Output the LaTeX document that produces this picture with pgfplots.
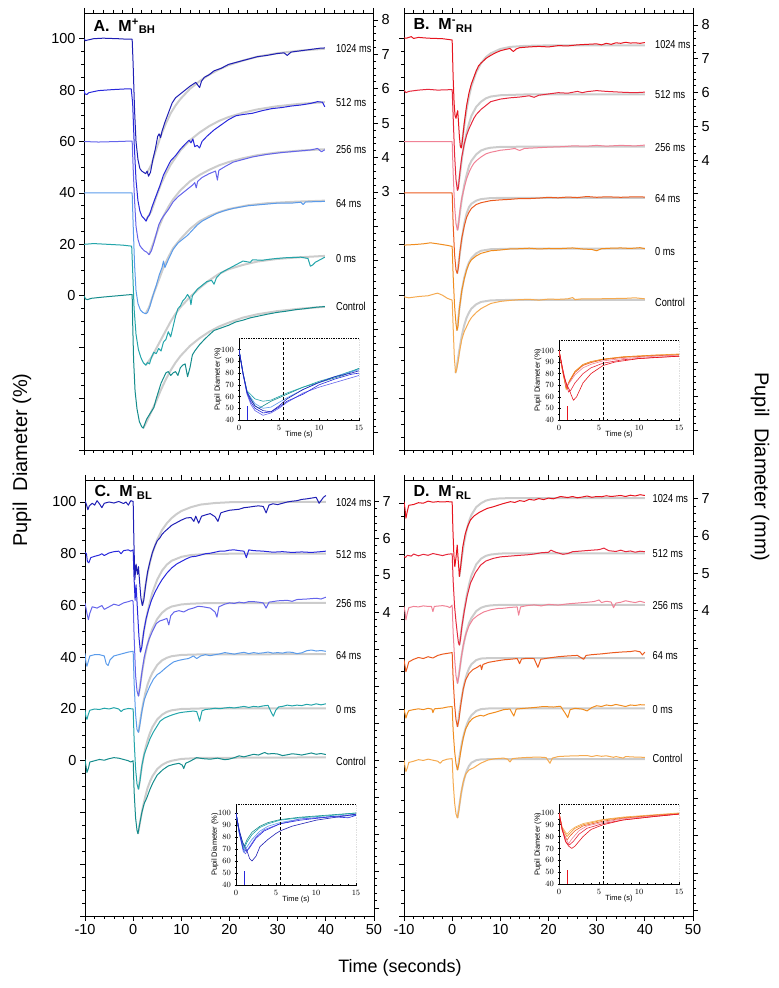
\documentclass[border=0pt]{standalone}
\usepackage{pgfplots}
\pgfplotsset{compat=1.18}
\usepackage{graphicx}
\usepackage{fontspec}
\setmainfont{Liberation Sans}
\definecolor{fitgray}{HTML}{CCCCCC}
\definecolor{a1}{HTML}{1E1EB4}
\definecolor{a2}{HTML}{2828DC}
\definecolor{a3}{HTML}{6464EB}
\definecolor{a4}{HTML}{5A9BEB}
\definecolor{a5}{HTML}{23A5AA}
\definecolor{a6}{HTML}{148C8C}
\definecolor{b1}{HTML}{E6141E}
\definecolor{b2}{HTML}{E6283C}
\definecolor{b3}{HTML}{F08296}
\definecolor{b4}{HTML}{EB5A1E}
\definecolor{b5}{HTML}{F08C1E}
\definecolor{b6}{HTML}{F5AA50}
\newcommand{\lb}[1]{\scalebox{0.8}[1]{#1}}
\tikzset{
 lab/.style={anchor=west, font=\fontsize{11.5}{13}\selectfont, inner sep=0pt},
 ttl/.style={anchor=north west, font=\bfseries\fontsize{16}{18}\selectfont, xshift=6pt, yshift=-2pt}
}
\pgfplotsset{
 panel/.style={scale only axis, width=289pt, xmin=-10, xmax=50,
   xtick={-10,0,...,50}, minor x tick num=4, ytick={-60,-40,...,100}, minor y tick num=3,
   tick align=outside, xtick pos=both, ytick pos=left,
   axis line style={line width=0.8pt}, major tick length=5pt, minor tick length=3pt,
   every tick/.style={line width=0.7pt, black},
   tick label style={font=\fontsize{14.5}{16}\selectfont}},
 mmaxis/.style={scale only axis, width=289pt, xmin=-10, xmax=50, axis x line=none, axis y line*=right,
   minor y tick num=4, tick align=outside, axis line style={line width=0.8pt},
   major tick length=5pt, minor tick length=3pt, every tick/.style={line width=0.7pt, black},
   tick label style={font=\fontsize{14.5}{16}\selectfont}},
 inset/.style={scale only axis, width=120pt, xmin=0, xmax=15, ymin=40,
   xtick={0,5,10,15}, ytick={40,50,...,100}, minor x tick num=4, minor y tick num=1,
   tick align=center, axis lines*=left, major tick length=3pt, minor tick length=1.5pt,
   every tick/.style={line width=0.5pt, black}, axis line style={line width=0.6pt},
   tick label style={font=\fontsize{8}{9}\selectfont},
   xlabel={Time (s)}, ylabel={Pupil Diameter (\%)},
   label style={font=\fontsize{7.5}{8}\selectfont},
   xlabel style={yshift=6pt}, ylabel style={yshift=-7pt},
   axis background/.style={fill=white}},
 fit/.style={color=fitgray, line width=2pt, no marks, line join=round},
 tr/.style={line width=1pt, no marks, line join=round},
 itr/.style={line width=0.6pt, no marks, line join=round}
}
\begin{document}
\begin{tikzpicture}
\path[use as bounding box] (0pt,0pt) rectangle (779pt,988pt);

%================ PANEL A =================
\begin{axis}[panel, at={(84pt,538pt)}, anchor=south west, height=437pt, ymin=-60, ymax=110,
  yticklabels={,,,0,20,40,60,80,100}, xticklabels={}]
\addplot[fit] coordinates {(3,47.5)(4,51)(5,57)(6,62.5)(7,67)(8,71)(9,74)(10,76.5)(12,80.5)(14,83.5)(16,86)(18,88)(20,89.7)(23,91.5)(26,93)(30,94.3)(35,95.4)(40,96.1)};
\addplot[fit] coordinates {(2.9,29.5)(4,33)(5,38.5)(6,43.5)(7,47.5)(8,51)(10,56.5)(12,60.5)(14,63.5)(16,66)(18,68)(20,69.5)(23,71.2)(26,72.5)(30,73.7)(35,74.7)(40,75.3)};
\addplot[fit] coordinates {(3.5,16)(4.5,21)(5.5,26.5)(6.5,31)(7.5,34.5)(8.5,37.5)(10,41)(12,44.5)(14,47)(16,49)(18,50.7)(20,52)(23,53.5)(26,54.7)(30,55.7)(35,56.5)(40,57)};
\addplot[fit] coordinates {(2.8,-7)(3.5,-4.5)(4.5,1)(5.5,6)(6.5,11)(7.5,15)(8.5,18.5)(10,22)(12,26)(14,29)(16,31)(18,32.5)(20,33.7)(24,35.2)(28,36)(34,36.6)(40,37)};
\addplot[fit] coordinates {(2.8,-27)(4,-24)(5,-20.5)(6,-17)(7,-13.5)(8,-10)(9,-7)(10,-4.5)(12,-0.5)(14,3)(16,6)(18,8.5)(20,10.3)(23,12)(26,13.3)(30,14.3)(35,15)(40,15.5)};
\addplot[fit] coordinates {(2.3,-51.5)(3,-49)(4,-45)(5,-41)(6,-36.5)(7,-32.5)(8,-29)(9,-26)(10,-23.5)(12,-19.5)(14,-16.5)(16,-14)(18,-12)(20,-10.5)(23,-8.5)(26,-7.2)(30,-6)(35,-5)(40,-4.3)};
\addplot[tr, color=a6] coordinates {(-10,0)(-9.7,-1.2)(-9.3,-1.5)(-8.5,-1)(-6,-0.5)(-3,0)(0,0.5)(0.1,-10)(0.3,-25)(0.6,-37)(1,-44)(1.5,-49)(2,-51)(2.3,-51.5)(2.6,-50)(3,-48)(3.5,-46.5)(4,-45)(4.5,-43.5)(5,-40)(5.5,-37)(6,-34)(6.5,-32)(7,-30)(7.5,-29.5)(8,-31)(8.5,-30)(9,-29.5)(9.5,-31)(10,-28)(10.5,-27)(11,-26.5)(11.5,-31.5)(12,-28)(12.5,-23)(13,-21.5)(14,-19)(15,-17)(16,-15.2)(17,-13.5)(18.5,-12.5)(20,-11.5)(21.5,-10.2)(23,-9.5)(24.5,-8.6)(26,-8)(28,-7.2)(30,-6.5)(32,-6)(34,-5.4)(36,-5)(38,-4.5)(40,-4.2)};
\addplot[tr, color=a5] coordinates {(-10,20)(-8,20.3)(-5,20)(-2,19.7)(-0.1,19.3)(0.1,10)(0.4,-5)(0.8,-15)(1.3,-21)(1.8,-24)(2.3,-26)(2.8,-27)(3.2,-26)(3.6,-26.5)(4,-24)(4.5,-22)(5,-22.5)(5.5,-20.5)(6,-21.5)(6.5,-18)(7,-17)(7.5,-14)(8,-16)(8.5,-12)(9,-8)(9.5,-5)(10,-4)(10.5,-2)(11,-1)(11.5,0.5)(12,-1)(12.2,-3.5)(12.5,0)(13.5,2.5)(14.5,4)(15.5,5.5)(16.5,6)(17,4.5)(17.5,7)(18.5,9)(20,10.5)(21.5,12)(23,13.5)(24.5,13)(25,14)(27,13.8)(28.5,14.2)(30,14.5)(32,14.8)(35,15)(36.5,14.5)(37,11.5)(37.5,12)(38,13)(39,14)(40,15)};
\addplot[tr, color=a4] coordinates {(-10,40)(-5,40)(0,40)(0.2,28)(0.5,12)(0.8,2)(1.2,-3)(1.7,-5.5)(2.2,-6.5)(2.8,-7)(3.2,-6.5)(3.7,-4)(4.3,0)(5,4)(5.6,8)(6.2,11)(6.5,13.5)(6.8,11)(7.5,14)(8.5,18)(9.5,20.5)(10.5,22)(11.5,23.5)(12.5,25.5)(13.5,27.5)(14.5,29)(16,30.5)(17.5,32)(19,33)(21,34)(24,35)(27,35.5)(30,36)(33,36)(35,36.4)(35.5,35.5)(36,36.5)(38,36.6)(40,36.7)};
\addplot[tr, color=a3] coordinates {(-10,60)(-7,59.8)(-3,60)(0,60.2)(0.2,50)(0.5,37)(0.8,27)(1.2,22)(1.6,19.5)(2,18.5)(2.5,17.5)(3,17)(3.5,16)(4,17.5)(4.5,20.5)(5,24)(5.5,27.5)(6,29.5)(6.5,31)(7.5,33.5)(8.5,36.5)(9.5,38.5)(10.5,40)(11.5,41.5)(12.5,43)(13,44)(13.3,42)(13.6,44.5)(14.5,46)(16,47.5)(17.3,48.5)(17.7,45)(18,48.8)(19.5,50.5)(21,52)(23,53)(25,54)(28,55)(31,55.7)(34,56.2)(37,56.7)(38.5,57.3)(39.3,56)(40,56.8)};
\addplot[tr, color=a2] coordinates {(-10,80)(-9.8,78.5)(-9.4,78.3)(-9,79)(-7,79.8)(-4,80.2)(-1,80.5)(-0.2,80.5)(0.1,75)(0.4,60)(0.8,45)(1.2,37)(1.6,33)(2,31)(2.5,30)(2.9,29)(3.2,30.5)(3.6,31.5)(4.2,35)(5,39)(5.8,43)(6.5,47)(7.3,50)(8,52.5)(9,54.5)(10,57)(11,59)(11.8,60.5)(12.2,59.5)(12.6,61)(13,58)(13.5,58.5)(14,57.5)(14.5,60)(15.5,62)(17,64.5)(18.5,66.5)(20,68.5)(21.5,70)(23,70.5)(25,71)(27,72)(29,72.8)(31,73.2)(33,73.8)(35,74.2)(37,74.8)(38.5,75.5)(39.5,75.3)(40,73.5)};
\addplot[tr, color=a1] coordinates {(-10,100)(-9.7,99.2)(-9.4,99.4)(-8,100)(-6,100.2)(-3,100)(-1,99.8)(0,99.8)(0.2,90)(0.5,72)(0.8,60)(1.2,53)(1.6,49.5)(2,48.5)(2.4,48)(2.8,47.5)(3.1,48.5)(3.4,46.5)(3.8,48)(4.3,53)(4.8,57)(5.3,62)(5.6,63)(5.9,61.5)(6.2,64)(6.8,67.5)(7.5,71)(8.3,75)(9,77)(10,78.5)(11,80)(12,81.5)(13.2,83)(13.6,82)(14,81)(14.4,83.5)(15,85)(16,86)(17,87.5)(18.5,88.5)(20,90)(22,91)(24,92)(26,93)(28,93.5)(30,94.2)(31.5,94.5)(32.2,93.5)(33,94.8)(35,95.3)(37,95.8)(39,96.3)(40,96.4)};
\node[lab] at (axis cs:42.3,96) {\lb{1024 ms}};
\node[lab] at (axis cs:42.3,75) {\lb{512 ms}};
\node[lab] at (axis cs:42.3,57) {\lb{256 ms}};
\node[lab] at (axis cs:42.3,36) {\lb{64 ms}};
\node[lab] at (axis cs:42.3,14.5) {\lb{0 ms}};
\node[lab] at (axis cs:42.3,-4.3) {\lb{Control}};
\node[ttl] at (rel axis cs:0,1) {A.\ \ M\textsuperscript{+}\textsubscript{BH}};
\end{axis}
\begin{axis}[mmaxis, at={(84pt,538pt)}, anchor=south west, height=437pt, ymin=-4.5, ymax=8.2,
  ytick={-4,...,8}, yticklabels={,,,,,,,3,4,5,6,7,8}]
\end{axis}
\begin{axis}[inset, at={(239pt,568pt)}, anchor=south west, height=82pt, ymax=110]
\addplot[itr, color=a6] coordinates {(0,100)(0.5,80)(1,64)(2,52)(2.5,50)(3,52)(4,56)(6,62)(8,68)(10,72)(13,78)(15,84)};
\addplot[itr, color=a5] coordinates {(0,100)(0.5,80)(1,65)(2,58)(3,56)(4,57)(5,60)(6,63)(8,68)(10,73)(12,77)(15,84)};
\addplot[itr, color=a4] coordinates {(0,100)(0.5,80)(1,64)(2,54)(3,50)(4,51)(5,55)(6,59)(8,66)(10,72)(12,77)(15,83)};
\addplot[itr, color=a3] coordinates {(0,100)(0.5,79)(1,62)(1.5,53)(2,48)(3,44)(4,46)(5,50)(6,55)(8,63)(10,68)(12,72)(14,76)(15,78)};
\addplot[itr, color=a2] coordinates {(0,100)(0.5,80)(1,63)(1.5,55)(2,50)(3,46)(4,47)(5,51)(6,56)(8,62)(10,70)(12,75)(14,79)(15,80)};
\addplot[itr, color=a1] coordinates {(0,100)(0.5,80)(1,64)(1.5,57)(2,52)(3,48)(4,47)(5,52)(6,58)(8,66)(10,72)(12,77)(14,80)(15,82)};
\addplot[color=a2, line width=1pt, no marks] coordinates {(1,40)(1,52)};
\addplot[densely dashed, black, line width=0.6pt, no marks] coordinates {(5.5,40)(5.5,110)};
\draw[densely dotted, line width=0.7pt] (rel axis cs:0,1) -- (rel axis cs:1,1) -- (rel axis cs:1,0);
\end{axis}

%================ PANEL B =================
\begin{axis}[panel, at={(404pt,538pt)}, anchor=south west, height=437pt, ymin=-60, ymax=110,
  yticklabels={}, xticklabels={}]
\addplot[fit] coordinates {(1.9,57.5)(2.5,66)(3,72.5)(3.5,77.5)(4,81.5)(5,87)(6,90.5)(7,92.8)(8,94.3)(10,96)(12,96.8)(15,97.2)(20,97.4)(30,97.4)(40,97.4)};
\addplot[fit] coordinates {(1.1,41)(1.6,47)(2,53)(2.5,59)(3,63.5)(3.5,67)(4,70)(5,73.5)(6,75.5)(7,76.8)(8,77.5)(10,78)(15,78.3)(40,78.3)};
\addplot[fit] coordinates {(1.1,25.5)(1.6,32)(2,37.5)(2.5,43)(3,47)(3.5,50.5)(4,52.5)(5,55)(6,56.5)(7,57.2)(8,57.6)(10,57.9)(15,58)(40,58)};
\addplot[fit] coordinates {(1.05,8.7)(1.5,15)(2,22)(2.5,28)(3,32)(3.5,34.5)(4,35.8)(5,37)(6,37.6)(8,38)(12,38.1)(40,38.1)};
\addplot[fit] coordinates {(1,-13.5)(1.5,-5)(2,2)(2.5,7)(3,10.5)(3.5,13)(4,14.6)(5,16.5)(6,17.5)(8,18.1)(12,18.3)(40,18.3)};
\addplot[fit] coordinates {(0.7,-30)(1,-27)(1.5,-21)(2,-15.5)(2.5,-11.5)(3,-8.5)(3.5,-6.5)(4,-5)(5,-3.3)(6,-2.4)(8,-1.8)(12,-1.6)(40,-1.6)};
\addplot[tr, color=b6] coordinates {(-10,-0.4)(-9,-0.8)(-7,-0.3)(-5,0)(-3.5,0.8)(-3,1)(-2,0.2)(-1,-1)(0,-1.7)(0.2,-12)(0.45,-24)(0.7,-30)(0.9,-29)(1.2,-26)(1.6,-21)(2,-17)(2.5,-14)(3,-12)(3.5,-10)(4,-8.5)(5,-6.5)(6,-5)(7,-4)(8,-3)(10,-2.2)(12,-1.8)(14,-1.5)(16,-1.4)(18,-1.7)(20,-1.3)(22,-1.4)(24,-1.2)(25,-0.7)(25.5,-1.5)(27,-1.2)(30,-1.2)(33,-1.1)(36,-1)(38,-0.8)(40,-1.2)};
\addplot[tr, color=b5] coordinates {(-10,19.7)(-8,19.9)(-6,20.2)(-4.5,20.6)(-3,20.2)(-1,19.6)(0,19.2)(0.2,8)(0.5,-4)(0.8,-11)(1,-13.5)(1.2,-12)(1.5,-5)(2,2)(2.5,6.5)(3,10)(3.5,12.5)(4,14)(5,15.5)(6,16.5)(7,17)(8,17.5)(10,17.8)(12,18.2)(14,18.3)(16,18.5)(18,18.2)(20,18.4)(22,18.3)(25,18.6)(27,18.2)(29,18)(30,17.5)(31,18.3)(33,18.5)(35,18.6)(37,18.4)(39,18.7)(40,18.3)};
\addplot[tr, color=b4] coordinates {(-10,40)(-5,40)(0,40)(0.2,28)(0.5,16)(0.8,10)(1.05,8.7)(1.3,11)(1.6,17)(2,22.5)(2.5,27)(3,30.5)(3.5,32.5)(4,34)(5,35.5)(6,36.2)(7,36.6)(8,37)(10,37.3)(12,37.5)(14,37.8)(16,37.8)(18,38)(20,38.3)(22,38.1)(24,38.4)(26,38.2)(28,38.6)(30,38.3)(32,38.5)(35,38.3)(38,38.5)(40,38.4)};
\addplot[tr, color=b3] coordinates {(-10,60)(-5,60)(0,60)(0.2,48)(0.5,35)(0.8,28)(1.1,25.5)(1.3,27)(1.6,33)(2,38)(2.5,42)(3,45.5)(3.5,48)(4,50)(4.5,51.5)(5,52.5)(6,54)(7,55.2)(8,55.8)(9,56.2)(10,56.6)(12,57)(13,57.3)(14,56.5)(15,57.3)(17,57.5)(20,57.8)(23,58)(25,58.3)(28,58.2)(30,58.5)(32,58.2)(35,58.5)(38,58.3)(40,58.6)};
\addplot[tr, color=b2] coordinates {(-10,80)(-9.6,79)(-9,79.5)(-7,80)(-5,80.3)(-3,80)(0,80.2)(0.2,70)(0.5,55)(0.8,45)(1.1,41)(1.3,42)(1.6,48)(2,54)(2.5,59)(3,62.5)(3.5,65)(4,67)(4.5,69)(5,70.5)(6,72.5)(7,74)(8,75.5)(9,76)(10,76.5)(12,77)(14,77.3)(16,77.8)(17,77.2)(18,78)(20,78.5)(22,79)(24,78.8)(26,79.5)(27,79)(28,79.4)(30,79.8)(32,79.5)(34,79.3)(36,79.1)(38,79)(40,79.2)};
\addplot[tr, color=b1] coordinates {(-10,100.3)(-9.5,100.2)(-8.5,100.8)(-8,100.1)(-7,100.5)(-5,100.2)(-2,100)(0,99.5)(0.2,85)(0.4,75)(0.6,70)(0.8,69)(1,71)(1.15,72)(1.3,68)(1.5,62)(1.7,58)(1.9,57.5)(2.1,60)(2.5,67)(3,74)(3.5,79)(4,82.5)(4.5,85)(5,87.5)(5.5,89.5)(6,90.5)(7,92.3)(8,93.5)(9,94.5)(10,95.3)(11,95.8)(12,96.2)(12.7,95)(13.3,96)(14,96.5)(16,96.8)(18,97)(20,96.8)(22,97.3)(24,97.2)(26,97.6)(28,97.8)(30,98)(31,97.6)(32,98.2)(33,97.8)(34,98.4)(35,98.2)(36,98.6)(37,98.3)(38,98.4)(39,98.2)(40,98.5)};
\node[lab] at (axis cs:42.1,97.6) {\lb{1024 ms}};
\node[lab] at (axis cs:42.1,78.2) {\lb{512 ms}};
\node[lab] at (axis cs:42.1,57.8) {\lb{256 ms}};
\node[lab] at (axis cs:42.1,37.9) {\lb{64 ms}};
\node[lab] at (axis cs:42.1,17.1) {\lb{0 ms}};
\node[lab] at (axis cs:42.1,-2.6) {\lb{Control}};
\node[ttl] at (rel axis cs:0,1) {B.\ \ M\textsuperscript{-}\textsubscript{RH}};
\end{axis}
\begin{axis}[mmaxis, at={(404pt,538pt)}, anchor=south west, height=437pt, ymin=-4.59, ymax=8.356,
  ytick={-4,...,8}, yticklabels={,,,,,,,,4,5,6,7,8}]
\end{axis}
\begin{axis}[inset, at={(559pt,568pt)}, anchor=south west, height=80pt, ymax=109]
\addplot[itr, color=b6] coordinates {(0,100)(0.4,84)(0.9,66)(1.3,73)(2,82)(3,87.5)(4,90)(5.5,92.5)(8,94.5)(12,96)(15,97)};
\addplot[itr, color=b5] coordinates {(0,100)(0.4,84)(0.9,67)(1.3,74)(2,82)(3,88)(4,90.5)(5.5,92.5)(8,94.5)(12,96)(15,96.5)};
\addplot[itr, color=b4] coordinates {(0,100)(0.4,84)(0.9,68)(1.3,73)(2,81)(3,87)(4,89.5)(5.5,92)(8,94)(12,95.5)(15,96)};
\addplot[itr, color=b3] coordinates {(0,100)(0.4,85)(0.9,69)(1.3,72)(2,79)(3,85)(4,88)(5.5,91)(8,93)(12,95)(15,96)};
\addplot[itr, color=b2] coordinates {(0,100)(0.4,86)(0.8,74)(1.2,64)(1.5,66)(2,72)(3,80)(4,85)(5.5,89)(8,92)(12,94)(15,95)};
\addplot[itr, color=b1] coordinates {(0,100)(0.3,90)(0.6,78)(1,70)(1.3,66)(1.5,62)(1.8,57)(2.2,60)(3,72)(4,80)(5.5,87)(7,90)(10,93)(15,95)};
\addplot[color=b1, line width=1pt, no marks] coordinates {(1,40)(1,52)};
\addplot[densely dashed, black, line width=0.6pt, no marks] coordinates {(5.5,40)(5.5,109)};
\draw[densely dotted, line width=0.7pt] (rel axis cs:0,1) -- (rel axis cs:1,1) -- (rel axis cs:1,0);
\end{axis}

%================ PANEL C =================
\begin{axis}[panel, at={(85pt,72pt)}, anchor=south west, height=436pt, ymin=-60, ymax=108.5,
  yticklabels={,,,0,20,40,60,80,100}, xticklabels={-10,0,10,20,30,40,50}]
\addplot[fit] coordinates {(1.9,60)(2.5,67)(3,72.5)(3.5,76.8)(4,80.3)(5,85.5)(6,89.2)(7,91.8)(8,93.8)(9,95.3)(10,96.5)(12,98)(14,99)(17,99.6)(20,99.9)(30,100)(40,100)};
\addplot[fit] coordinates {(1.5,42)(2,47.5)(2.5,53)(3,57.5)(3.5,61.5)(4,65)(5,70)(6,73.5)(7,75.8)(8,77.3)(10,78.8)(12,79.5)(15,79.9)(20,80)(40,80)};
\addplot[fit] coordinates {(1.1,25)(1.5,30)(2,36)(2.5,41)(3,45)(3.5,48.5)(4,51)(5,54.8)(6,57.2)(7,58.7)(8,59.6)(10,60.4)(12,60.7)(15,60.9)(40,61)};
\addplot[fit] coordinates {(1.1,11)(1.5,16)(2,21.5)(2.5,26)(3,29.5)(3.5,32)(4,34)(5,37)(6,38.8)(7,39.8)(8,40.4)(10,40.9)(14,41.1)(40,41.2)};
\addplot[fit] coordinates {(1.1,-11)(1.5,-6)(2,0)(2.5,4.5)(3,8)(3.5,10.8)(4,13)(5,16)(6,17.8)(7,18.9)(8,19.5)(10,20)(14,20.2)(40,20.2)};
\addplot[fit] coordinates {(1,-28.2)(1.5,-23)(2,-18)(2.5,-14)(3,-10.5)(3.5,-8)(4,-6)(5,-3.2)(6,-1.6)(7,-0.6)(8,0)(10,0.7)(14,1.1)(40,1.3)};
\addplot[tr, color=a6] coordinates {(-10,0.5)(-9.8,-2)(-9.6,-4.5)(-9.3,-3)(-9,-0.5)(-8,0)(-7,0.5)(-6,0.2)(-5,0.8)(-4,1.2)(-3,1)(-2,0.5)(-1,0)(-0.5,-0.5)(0,0)(0.2,-12)(0.5,-22)(0.8,-27)(1,-28.2)(1.3,-25)(1.8,-20)(2.3,-16.5)(2.8,-14.5)(3.5,-11)(4.1,-8.5)(5,-5.5)(6.2,-3.4)(7.3,-2)(8.4,-1.4)(9.5,-1)(10.2,-1.7)(10.5,-3)(10.9,-1)(12,0)(13.2,1.2)(14.5,0.8)(16,0.6)(17.5,1)(19,0.4)(19.9,0.6)(21,1.2)(22,1.9)(23,1.5)(24,2)(25,2.5)(26,2.2)(27.3,3.2)(28,2.6)(29,2.8)(30,2.6)(31,2)(32,2.3)(33,2.7)(34,2.5)(35,2.2)(36,2.6)(37,3)(38,2.5)(39,2.8)(40,2.4)};
\addplot[tr, color=a5] coordinates {(-10,19.5)(-9.8,17)(-9.6,16)(-9.3,18)(-9,19.5)(-8,20)(-7,19.8)(-6,20.3)(-5,20)(-4,20.5)(-3,20)(-2.5,19)(-2,19.8)(-1,20.2)(0,20)(0.2,8)(0.5,-3)(0.8,-9)(1.1,-11)(1.4,-8)(1.8,-2)(2.3,2.5)(2.8,5)(3.5,8.5)(4.1,10.8)(5,13.5)(5.6,15.3)(6.5,16.5)(7.5,17.3)(8.4,17.9)(9.5,18.5)(10.5,18.8)(11.5,19)(12.5,19.2)(13.2,19)(13.8,15.3)(14.3,19.3)(15,19.8)(16,20)(17,20.3)(18,20.1)(19,20.4)(20,20.6)(21,20.4)(22,20.7)(23,21)(24,20.6)(25,21)(26,20.8)(27,21.2)(28,21.4)(28.6,19)(29.1,17.2)(29.6,19.5)(30.2,20.8)(31,21)(32,21.5)(33,21.2)(34,21.5)(35,21.3)(36,21.8)(37,21.5)(38,22)(39,21.6)(40,22)};
\addplot[tr, color=a4] coordinates {(-10,41.5)(-9.8,38)(-9.6,36.5)(-9.3,38.5)(-9,40.5)(-8,41)(-7,41)(-6,40.5)(-5.6,37.5)(-5.2,36.8)(-4.8,39)(-4,40.5)(-3,41)(-2,41.5)(-1,42)(0,42.3)(0.2,30)(0.5,18)(0.8,12)(1.1,11)(1.4,14)(1.8,19)(2.3,23.5)(2.8,26)(3.5,29)(4.2,31.5)(5,33.3)(5.6,34)(6.5,35.5)(7.5,37)(8.4,38.2)(9.5,38.8)(10.5,39.2)(11.5,39.5)(12.5,40.5)(13.2,39.5)(14,40.5)(15,41)(16,40.6)(17,41)(18,41.3)(19,41.8)(20,41.5)(21,41.2)(22,41.6)(23,41.9)(24,41.4)(25,41.8)(26,41.5)(27,41.7)(28,42)(29,41.6)(30,41.8)(31,41.6)(32,42)(33,41.9)(34,41.4)(35,41.7)(36,42.5)(37,42.8)(38,42.4)(39,42.6)(40,42.3)};
\addplot[tr, color=a3] coordinates {(-10,61)(-9.6,57)(-9.3,54.5)(-9,57)(-8.5,59.5)(-7.5,59)(-6.5,60)(-6,58.5)(-5,59.5)(-4,60.5)(-3,60)(-2,61)(-1,61.5)(-0.2,62)(0,61.5)(0.2,48)(0.5,33)(0.8,27)(1.1,25)(1.4,28)(1.8,34)(2.3,40)(2.8,44)(3.3,47)(4,50)(4.8,53)(5.5,54)(6.3,54.5)(7,55)(7.4,52.5)(7.8,56)(8.5,57.5)(9.5,58)(10.5,57.5)(11.5,58.5)(12.5,59)(13.5,59.7)(14.5,59.5)(16,59)(17,57.5)(17.4,55.5)(17.8,59.5)(19,60.5)(20,61)(21,60.8)(22,61.3)(23,61)(24,61.5)(25,61.5)(26,61.3)(27,61)(27.6,59)(28.2,61.3)(29,61.5)(30,61.8)(32,62)(33,61.6)(34,62.3)(36,62.5)(38,62.8)(39,62.5)(40,63.2)};
\addplot[tr, color=a2] coordinates {(-10,80.5)(-9.7,80)(-9.5,77)(-9.2,76.5)(-8.8,78.5)(-8,79)(-7,79.5)(-6.5,80)(-6,79.3)(-5,80.3)(-4,80.8)(-3,81)(-2.5,80)(-2,81.2)(-1,81.5)(-0.5,81)(0,81.5)(0.15,72)(0.4,62)(0.6,68)(0.9,58)(1.2,48)(1.5,42)(1.8,44)(2.2,50)(2.7,55)(3.2,58.5)(3.8,62)(4.5,65)(5.2,67.5)(6,70)(7,72.5)(8,74.5)(9,76)(10,77)(11,78)(12,78.8)(13,79)(14,79.5)(15,80)(16,80.2)(17,80.6)(18,81)(19,81)(20,81.4)(21,81.5)(22,81.2)(23,81)(23.5,78.5)(24,81.5)(25,81.2)(27,81)(29,80.6)(31,80.8)(33,80.5)(35,80.7)(37,80.5)(39,80.8)(40,81)};
\addplot[tr, color=a1] coordinates {(-10,100.5)(-9.7,99)(-9.4,97)(-9.1,98.5)(-8.5,99.5)(-8,98.8)(-7.5,100.5)(-7,99.3)(-6.5,97.8)(-6,99.5)(-5,100)(-4,99.6)(-3,100.2)(-2,99.4)(-1.5,100)(-1,98.8)(-0.5,100.5)(0,100.2)(0.15,85)(0.35,70)(0.6,76)(0.9,72)(1.1,75)(1.3,70)(1.6,63)(1.9,60)(2.2,62)(2.6,68)(3,73)(3.5,77)(4,80.5)(4.5,83)(5,85)(5.5,86)(6,87.5)(6.5,88.5)(7,89.3)(8,91)(9,92)(10,93)(11,93.8)(12,94)(12.6,92.5)(13,94.5)(13.6,91.8)(14.2,94.5)(15,95)(16,95.5)(17,94.3)(17.6,92.5)(18.2,95.8)(19,96.3)(20,96.8)(21,97)(22,97.2)(23,97.8)(24,98)(25,98.3)(26,98.5)(27,98.3)(27.6,95.8)(28.2,98.8)(29,99.3)(30,99)(31,99.5)(32,100)(33,100.3)(34,100.5)(35,101)(36,101.2)(37,101.5)(38,101.8)(38.6,99.5)(39,100.5)(39.5,101.8)(40,102.5)};
\node[lab] at (axis cs:42.1,99.6) {\lb{1024 ms}};
\node[lab] at (axis cs:42.1,79.7) {\lb{512 ms}};
\node[lab] at (axis cs:42.1,60.7) {\lb{256 ms}};
\node[lab] at (axis cs:42.1,40.6) {\lb{64 ms}};
\node[lab] at (axis cs:42.1,19.6) {\lb{0 ms}};
\node[lab] at (axis cs:42.1,-0.3) {\lb{Control}};
\node[ttl] at (rel axis cs:0,1) {C.\ \ M\textsuperscript{-}\textsubscript{BL}};
\end{axis}
\begin{axis}[mmaxis, at={(85pt,72pt)}, anchor=south west, height=436pt, ymin=-4.22, ymax=7.57,
  ytick={-4,...,7}, yticklabels={,,,,,,,,4,5,6,7}]
\end{axis}
\begin{axis}[inset, at={(236pt,103pt)}, anchor=south west, height=81pt, ymax=107.5]
\addplot[itr, color=a6] coordinates {(0,100)(0.4,85)(1,72)(1.4,78)(2,84)(3,89)(4,92)(5.5,94.5)(8,96.5)(12,98.5)(15,100)};
\addplot[itr, color=a5] coordinates {(0,100)(0.4,84)(1,70)(1.4,76)(2,82)(3,88)(4,91)(5.5,94)(8,96)(12,98)(15,100)};
\addplot[itr, color=a4] coordinates {(0,100)(0.4,83)(1,67)(1.3,71)(2,78)(3,85)(4,89)(5.5,92)(8,95)(12,97)(15,98)};
\addplot[itr, color=a3] coordinates {(0,100)(0.4,84)(0.9,68)(1.2,66)(1.5,70)(2.5,80)(3.5,86)(5.5,91)(8,95)(12,97)(15,99)};
\addplot[itr, color=a2] coordinates {(0,100)(0.4,84)(0.9,70)(1.3,68)(1.7,71)(2.5,79)(3.5,85)(5.5,91)(8,94)(12,97)(14,96)(15,98)};
\addplot[itr, color=a1] coordinates {(0,100)(0.4,86)(0.8,76)(1.1,72)(1.4,68)(1.7,62)(2,60)(2.5,64)(3,72)(4,78)(5,83)(5.5,85)(7,89)(10,94)(13,97)(15,99)};
\addplot[color=a2, line width=1pt, no marks] coordinates {(1,40)(1,52)};
\addplot[densely dashed, black, line width=0.6pt, no marks] coordinates {(5.5,40)(5.5,107.5)};
\draw[densely dotted, line width=0.7pt] (rel axis cs:0,1) -- (rel axis cs:1,1) -- (rel axis cs:1,0);
\end{axis}

%================ PANEL D =================
\begin{axis}[panel, at={(404pt,72pt)}, anchor=south west, height=436pt, ymin=-60, ymax=109,
  yticklabels={}, xticklabels={-10,0,10,20,30,40,50}]
\addplot[fit] coordinates {(1.5,71.6)(2,79)(2.5,85)(3,89.5)(3.5,93)(4,95.5)(5,98.5)(6,100)(7,101)(8,101.5)(10,101.9)(14,102)(40,102)};
\addplot[fit] coordinates {(1.5,45)(2,52)(2.5,58.5)(3,64)(3.5,68.5)(4,72)(5,76.3)(6,78.5)(7,79.6)(8,80.1)(10,80.5)(14,80.6)(40,80.6)};
\addplot[fit] coordinates {(1.1,30.2)(1.5,35)(2,41.5)(2.5,46.5)(3,50.5)(3.5,53.5)(4,55.5)(5,58.2)(6,59.5)(7,60.1)(8,60.4)(10,60.6)(40,60.6)};
\addplot[fit] coordinates {(1.1,13.4)(1.5,19)(2,25)(2.5,30)(3,33.5)(3.5,36)(4,37.6)(5,39.2)(6,39.8)(8,40)(40,40)};
\addplot[fit] coordinates {(1.1,-3.4)(1.5,1.5)(2,7)(2.5,11)(3,14)(3.5,16.3)(4,17.8)(5,19.5)(6,20.2)(8,20.5)(40,20.5)};
\addplot[fit] coordinates {(1.1,-22)(1.5,-17)(2,-11)(2.5,-6.8)(3,-3.8)(3.5,-1.8)(4,-0.6)(5,0.4)(6,0.7)(8,0.8)(40,0.8)};
\addplot[tr, color=b6] coordinates {(-10,0.5)(-9.8,-2)(-9.6,-4)(-9.3,-2.5)(-9,-0.5)(-8,0)(-7,0.6)(-6,0.3)(-5,0.8)(-4,0.4)(-3,0)(-2.5,-0.8)(-2,0.2)(-1,0.8)(0,1)(0.2,-8)(0.5,-16)(0.8,-20.5)(1.1,-22)(1.4,-19)(1.8,-13)(2.3,-8)(2.8,-5)(3.5,-3.4)(4.5,-2.5)(5.9,-0.8)(7.5,0.5)(9,1)(10.7,1.2)(11.5,0.8)(12,-0.3)(12.5,1)(14,1.3)(16,1.5)(18,1.6)(19.5,1.4)(20.3,-0.8)(20.8,1.2)(22,1.8)(24,2)(26,2.1)(28,2.2)(29,1.8)(30,2.2)(31,1.9)(32,2.1)(33.5,1.5)(34,1.8)(35.5,1.2)(36,1.8)(38,1.6)(40,1.5)};
\addplot[tr, color=b5] coordinates {(-10,20.2)(-9.8,18.5)(-9.6,16.7)(-9.3,18.5)(-9,19.6)(-8,20)(-7,20.3)(-6,20)(-5,20.5)(-4.2,20.2)(-4,18.8)(-3.7,20.3)(-2,20.6)(-1,21)(0,21.2)(0.2,12)(0.5,4)(0.8,-1)(1.1,-3.4)(1.4,-1)(1.8,4)(2.3,9)(2.8,12.5)(3.5,15)(4.2,16.5)(5,17.3)(5.9,17.8)(6.5,17.5)(7.5,18.3)(9,19)(10.7,20)(12,20.2)(12.8,17.5)(13.3,20.2)(15,20.5)(17,20.8)(19,21.2)(21,21)(22.5,21.3)(23.5,18.5)(24,16.9)(24.5,20)(25.5,20.5)(27,20.2)(28,19.5)(29,20.8)(30,21.5)(31,21.2)(32,21.8)(33,21.5)(34,22)(35,21.6)(36,21.2)(37,21.8)(38,21.6)(39,21.9)(40,21.8)};
\addplot[tr, color=b4] coordinates {(-10,39.3)(-9.8,37)(-9.6,34.7)(-9.3,36.5)(-9,38.5)(-8,39.5)(-7,40.2)(-6,39.8)(-5,40.5)(-4,40)(-3,41)(-2,41.5)(-1,41.8)(0,42.1)(0.2,32)(0.5,22)(0.8,16)(1.1,13.4)(1.4,16)(1.8,22)(2.3,28)(2.8,31.5)(3.5,34)(4.3,35.5)(5.3,36.5)(5.9,37.3)(6.1,35.5)(6.4,37.5)(7.5,38.3)(9,38.8)(10.7,39.3)(12,39.5)(13.5,39.8)(14,37.8)(14.4,39.6)(15.5,39.9)(17,39.8)(17.8,36.4)(18.4,39.5)(20,40)(22,40.5)(24,40.8)(26,41)(27.3,39.5)(27.8,41)(29,41.3)(31,41.6)(33,42)(35,42.3)(37,42.5)(38,42.8)(39,42.4)(39.5,41.2)(40,42.3)};
\addplot[tr, color=b3] coordinates {(-10,60)(-9.8,58)(-9.6,54.8)(-9.3,57.5)(-9,59.5)(-8,60)(-7,59.8)(-6,60.2)(-5,60)(-4.3,60)(-4,58)(-3.7,60)(-2,60.3)(-1,60)(-0.5,59.5)(0,60.5)(0.2,50)(0.5,40)(0.8,33)(1.1,30.2)(1.4,33)(1.8,39)(2.3,45)(2.8,49)(3.5,52.5)(4.3,55)(5.3,56.5)(6.5,57.8)(8,58.7)(9.5,59.2)(10.7,59.3)(12,59.6)(13.5,59.8)(13.8,56.6)(14.2,59.8)(15.5,60.3)(17,60.6)(18.5,60.2)(20,60.8)(22,60.5)(24,61)(26,61.3)(28,61.6)(29.5,61.9)(30.5,62.5)(31,61.5)(32,62)(33,61.7)(33.5,59.5)(34,61.3)(35,61.6)(36,62.2)(37,61.8)(38,61.5)(39,62)(40,61.5)};
\addplot[tr, color=b2] coordinates {(-10,79.3)(-9.7,79)(-9.3,79.8)(-8.5,79.5)(-8,80.3)(-7,79.6)(-6,80.2)(-5,79.8)(-4,80.5)(-3,80.1)(-2,79.7)(-1,80.2)(0,80.4)(0.2,70)(0.5,60)(0.8,54)(1.1,49)(1.3,46)(1.5,45)(1.7,47)(2,52)(2.5,58)(3.1,64)(3.8,69)(4.8,73)(5.9,76)(7,77.6)(8.5,78.6)(10,79.2)(12,79.5)(14,79.8)(15.6,80)(17,80.3)(18.5,80.8)(20,81)(20.5,81.8)(21.5,81)(23,80.2)(24,80.5)(25,81.2)(27,81.5)(29,81.8)(30.5,82)(31.5,82.6)(32.5,81.6)(34,81.3)(35,81.8)(36,81.2)(37,81.5)(38,81)(39,81.4)(40,81.2)};
\addplot[tr, color=b1] coordinates {(-10,100.6)(-9.8,98)(-9.6,94.2)(-9.3,97)(-9,99.2)(-8,99.5)(-7,100.2)(-6,100)(-5,100.8)(-4,100.4)(-3,100.6)(-2,100.5)(-1,100.6)(0,100.5)(0.15,90)(0.35,80)(0.55,75.4)(0.8,79)(1.05,83.8)(1.25,78)(1.5,71.6)(1.8,76)(2.2,83)(2.7,88)(3.2,91)(3.8,93.5)(4.5,95)(5.5,96.3)(6.5,97.3)(7.3,98)(8.5,98.6)(9.5,99.2)(10.5,99.8)(11.5,100.3)(12.1,100.6)(13,100.3)(14,101)(15,100.7)(16,101.5)(17,101.2)(18,101.8)(19,101.4)(20,102)(21,101.7)(22.5,102.6)(24,102.2)(25,102.6)(26,102.1)(27,102.4)(28,102.8)(29,102.3)(30,102.6)(31,102.5)(32,102.9)(33,102.6)(34,102.8)(35,103)(36,102.6)(37,103.1)(38,102.8)(39,103.3)(40,103)};
\node[lab] at (axis cs:41.6,101.7) {\lb{1024 ms}};
\node[lab] at (axis cs:41.6,80.4) {\lb{512 ms}};
\node[lab] at (axis cs:41.6,60.2) {\lb{256 ms}};
\node[lab] at (axis cs:41.6,40.9) {\lb{64 ms}};
\node[lab] at (axis cs:41.6,20.2) {\lb{0 ms}};
\node[lab] at (axis cs:41.6,1.2) {\lb{Control}};
\node[ttl] at (rel axis cs:0,1) {D.\ \ M\textsuperscript{-}\textsubscript{RL}};
\end{axis}
\begin{axis}[mmaxis, at={(404pt,72pt)}, anchor=south west, height=436pt, ymin=-4.14, ymax=7.49,
  ytick={-4,...,7}, yticklabels={,,,,,,,,4,5,6,7}]
\end{axis}
\begin{axis}[inset, at={(559pt,104pt)}, anchor=south west, height=80pt, ymax=107.5]
\addplot[itr, color=b6] coordinates {(0,100)(0.4,88)(1,82)(1.4,85)(2,88)(3,91)(5.5,94.5)(8,96.5)(12,98.5)(15,100)};
\addplot[itr, color=b5] coordinates {(0,100)(0.4,87)(1,80)(1.4,83)(2,87)(3,90)(5.5,94)(8,96)(12,98)(15,99.5)};
\addplot[itr, color=b4] coordinates {(0,100)(0.4,85)(1,77)(1.3,80)(2,85)(3,89)(5.5,93)(8,95.5)(12,98)(15,99)};
\addplot[itr, color=b3] coordinates {(0,100)(0.4,87)(0.9,78)(1.2,74)(1.6,78)(2.5,85)(3.5,89)(5.5,92)(8,95)(12,97.5)(15,99)};
\addplot[itr, color=b2] coordinates {(0,100)(0.4,86)(0.9,75)(1.3,73)(1.8,76)(2.5,82)(3.5,87)(5.5,91)(8,94)(12,97)(15,99)};
\addplot[itr, color=b1] coordinates {(0,100)(0.4,86)(0.8,76)(1.2,72)(1.6,70)(2,72)(3,80)(4,86)(5.5,90)(8,94)(12,97)(15,99)};
\addplot[color=b1, line width=1pt, no marks] coordinates {(1,40)(1,52)};
\addplot[densely dashed, black, line width=0.6pt, no marks] coordinates {(5.5,40)(5.5,107.5)};
\draw[densely dotted, line width=0.7pt] (rel axis cs:0,1) -- (rel axis cs:1,1) -- (rel axis cs:1,0);
\end{axis}

\node[rotate=90, font=\fontsize{20}{24}\selectfont] at (22pt,528pt) {Pupil\ \ Diameter (\%)};
\node[rotate=-90, font=\fontsize{20}{24}\selectfont] at (760pt,521pt) {Pupil\ \ Diameter (mm)};
\node[font=\fontsize{18}{21}\selectfont] at (400pt,20pt) {Time (seconds)};
\end{tikzpicture}
\end{document}
